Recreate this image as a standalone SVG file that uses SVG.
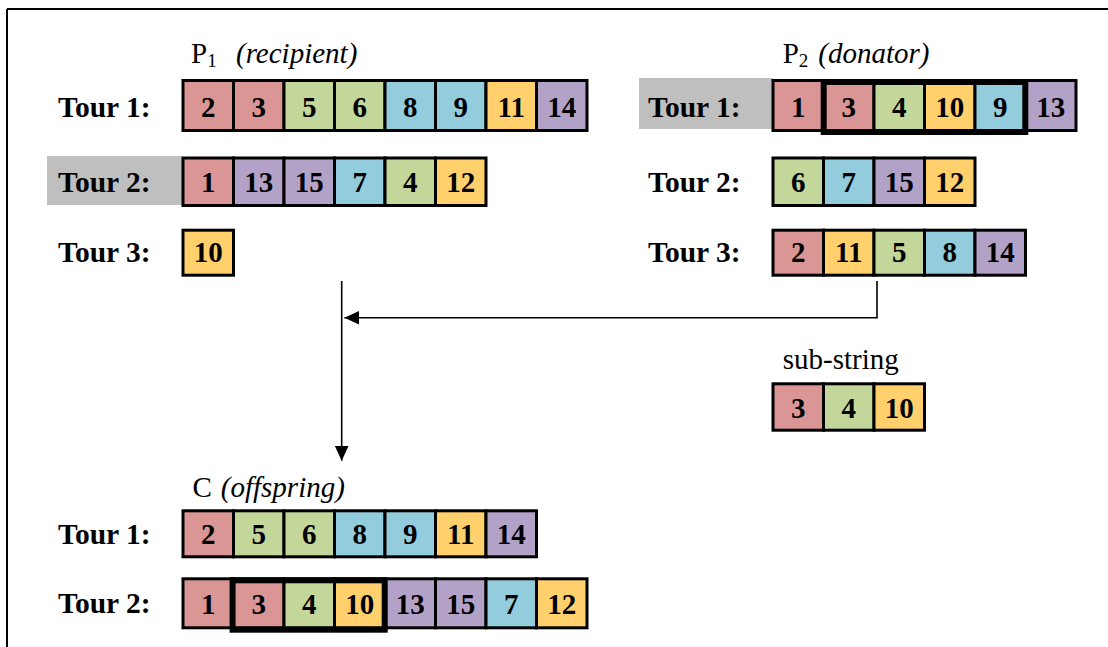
<svg xmlns="http://www.w3.org/2000/svg" width="1108" height="647" viewBox="0 0 1108 647">
<style>
.lbl{font-family:"Liberation Serif","Times New Roman",serif;font-weight:bold;font-size:29.5px;fill:#000}
.num{font-family:"Liberation Serif","Times New Roman",serif;font-weight:bold;font-size:29px;fill:#000;text-anchor:middle}
.ttl{font-family:"Liberation Serif","Times New Roman",serif;font-size:29px;fill:#000}
.it{font-style:italic}
.c{stroke:#000;stroke-width:3}
.r{fill:#D99694}.g{fill:#C4D79B}.b{fill:#93CDDD}.o{fill:#FFD06B}.p{fill:#B3A2C7}
.hl{fill:none;stroke:#000;stroke-width:6}
.gray{fill:#BFBFBF}
.ln{fill:none;stroke:#000;stroke-width:1.6}
</style>
<defs>
<marker id="ah" markerUnits="userSpaceOnUse" markerWidth="16" markerHeight="16" viewBox="0 0 16 16" refX="15" refY="8" orient="auto">
<path d="M0,1 L15,8 L0,15 Z" fill="#000"/>
</marker>
</defs>
<rect width="1108" height="647" fill="#fff"/>
<g id="frame">
<line x1="7" y1="9" x2="1108" y2="9" stroke="#000" stroke-width="2"/>
<line x1="7" y1="9" x2="7" y2="647" stroke="#000" stroke-width="2"/>
</g>

<g id="p1">
<text class="ttl" x="191" y="63">P<tspan font-size="19" dy="4">1</tspan><tspan class="it" x="236" dy="-4">(recipient)</tspan></text>
<g id="p1-t1">
<text class="lbl" x="58" y="117">Tour 1:</text>
<rect class="c r" x="183" y="80.5" width="50.5" height="50"/>
<rect class="c r" x="233.5" y="80.5" width="50.5" height="50"/>
<rect class="c g" x="284" y="80.5" width="50.5" height="50"/>
<rect class="c g" x="334.5" y="80.5" width="50.5" height="50"/>
<rect class="c b" x="385" y="80.5" width="50.5" height="50"/>
<rect class="c b" x="435.5" y="80.5" width="50.5" height="50"/>
<rect class="c o" x="486" y="80.5" width="50.5" height="50"/>
<rect class="c p" x="536.5" y="80.5" width="50.5" height="50"/>
<text class="num" y="116.5"><tspan x="208.2">2</tspan><tspan x="258.7">3</tspan><tspan x="309.2">5</tspan><tspan x="359.7">6</tspan><tspan x="410.2">8</tspan><tspan x="460.7">9</tspan><tspan x="511.2">11</tspan><tspan x="561.7">14</tspan></text>
</g>
<g id="p1-t2">
<rect class="gray" x="47" y="156" width="135" height="49"/>
<text class="lbl" x="58" y="192">Tour 2:</text>
<rect class="c r" x="183" y="158" width="50.5" height="47.5"/>
<rect class="c p" x="233.5" y="158" width="50.5" height="47.5"/>
<rect class="c p" x="284" y="158" width="50.5" height="47.5"/>
<rect class="c b" x="334.5" y="158" width="50.5" height="47.5"/>
<rect class="c g" x="385" y="158" width="50.5" height="47.5"/>
<rect class="c o" x="435.5" y="158" width="50.5" height="47.5"/>
<text class="num" y="192"><tspan x="208.2">1</tspan><tspan x="258.7">13</tspan><tspan x="309.2">15</tspan><tspan x="359.7">7</tspan><tspan x="410.2">4</tspan><tspan x="460.7">12</tspan></text>
</g>
<g id="p1-t3">
<text class="lbl" x="58" y="262">Tour 3:</text>
<rect class="c o" x="183" y="230.2" width="50.5" height="45"/>
<text class="num" x="208.2" y="262">10</text>
</g>
</g>

<g id="p2">
<text class="ttl" x="782.7" y="63">P<tspan font-size="19" dy="4">2</tspan><tspan class="it" x="818.3" dy="-4">(donator)</tspan></text>
<g id="p2-t1">
<rect class="gray" x="639" y="78" width="134" height="51"/>
<text class="lbl" x="648" y="117">Tour 1:</text>
<rect class="c r" x="773" y="80.5" width="50.5" height="50"/>
<rect class="c r" x="823.5" y="80.5" width="50.5" height="50"/>
<rect class="c g" x="874" y="80.5" width="50.5" height="50"/>
<rect class="c o" x="924.5" y="80.5" width="50.5" height="50"/>
<rect class="c b" x="975" y="80.5" width="50.5" height="50"/>
<rect class="c p" x="1025.5" y="80.5" width="50.5" height="50"/>
<rect class="hl" x="823.7" y="82" width="201.6" height="50"/>
<text class="num" y="116.5"><tspan x="798.2">1</tspan><tspan x="848.7">3</tspan><tspan x="899.2">4</tspan><tspan x="949.7">10</tspan><tspan x="1000.2">9</tspan><tspan x="1050.7">13</tspan></text>
</g>
<g id="p2-t2">
<text class="lbl" x="648" y="192">Tour 2:</text>
<rect class="c g" x="773" y="158" width="50.5" height="47.5"/>
<rect class="c b" x="823.5" y="158" width="50.5" height="47.5"/>
<rect class="c p" x="874" y="158" width="50.5" height="47.5"/>
<rect class="c o" x="924.5" y="158" width="50.5" height="47.5"/>
<text class="num" y="192"><tspan x="798.2">6</tspan><tspan x="848.7">7</tspan><tspan x="899.2">15</tspan><tspan x="949.7">12</tspan></text>
</g>
<g id="p2-t3">
<text class="lbl" x="648" y="262">Tour 3:</text>
<rect class="c r" x="773" y="230.2" width="50.5" height="45"/>
<rect class="c o" x="823.5" y="230.2" width="50.5" height="45"/>
<rect class="c g" x="874" y="230.2" width="50.5" height="45"/>
<rect class="c b" x="924.5" y="230.2" width="50.5" height="45"/>
<rect class="c p" x="975" y="230.2" width="50.5" height="45"/>
<text class="num" y="262"><tspan x="798.2">2</tspan><tspan x="848.7">11</tspan><tspan x="899.2">5</tspan><tspan x="949.7">8</tspan><tspan x="1000.2">14</tspan></text>
</g>
</g>

<g id="substring">
<text class="ttl" x="782.7" y="369">sub-string</text>
<rect class="c r" x="773" y="383.8" width="50.5" height="46.4"/>
<rect class="c g" x="823.5" y="383.8" width="50.5" height="46.4"/>
<rect class="c o" x="874" y="383.8" width="50.5" height="46.4"/>
<text class="num" y="417.5"><tspan x="798.2">3</tspan><tspan x="848.7">4</tspan><tspan x="899.2">10</tspan></text>
</g>

<g id="offspring">
<text class="ttl" x="192.5" y="496.7">C <tspan class="it" x="220.8">(offspring)</tspan></text>
<g id="c-t1">
<text class="lbl" x="58" y="543.5">Tour 1:</text>
<rect class="c r" x="183" y="510.8" width="50.5" height="46"/>
<rect class="c g" x="233.5" y="510.8" width="50.5" height="46"/>
<rect class="c g" x="284" y="510.8" width="50.5" height="46"/>
<rect class="c b" x="334.5" y="510.8" width="50.5" height="46"/>
<rect class="c b" x="385" y="510.8" width="50.5" height="46"/>
<rect class="c o" x="435.5" y="510.8" width="50.5" height="46"/>
<rect class="c p" x="486" y="510.8" width="50.5" height="46"/>
<text class="num" y="544"><tspan x="208.2">2</tspan><tspan x="258.7">5</tspan><tspan x="309.2">6</tspan><tspan x="359.7">8</tspan><tspan x="410.2">9</tspan><tspan x="460.7">11</tspan><tspan x="511.2">14</tspan></text>
</g>
<g id="c-t2">
<text class="lbl" x="58" y="613.3">Tour 2:</text>
<rect class="c r" x="183" y="578.8" width="50.5" height="49"/>
<rect class="c r" x="233.5" y="578.8" width="50.5" height="49"/>
<rect class="c g" x="284" y="578.8" width="50.5" height="49"/>
<rect class="c o" x="334.5" y="578.8" width="50.5" height="49"/>
<rect class="c p" x="385" y="578.8" width="50.5" height="49"/>
<rect class="c p" x="435.5" y="578.8" width="50.5" height="49"/>
<rect class="c b" x="486" y="578.8" width="50.5" height="49"/>
<rect class="c o" x="536.5" y="578.8" width="50.5" height="49"/>
<rect class="hl" x="232.6" y="580.3" width="152.1" height="49.4"/>
<text class="num" y="613.8"><tspan x="208.2">1</tspan><tspan x="258.7">3</tspan><tspan x="309.2">4</tspan><tspan x="359.7">10</tspan><tspan x="410.2">13</tspan><tspan x="460.7">15</tspan><tspan x="511.2">7</tspan><tspan x="561.7">12</tspan></text>
</g>
</g>

<g id="connectors">
<path class="ln" d="M877,281 V317.7 H344.4" marker-end="url(#ah)"/>
<path class="ln" d="M341.7,281 V460.7" marker-end="url(#ah)"/>
</g>
</svg>
